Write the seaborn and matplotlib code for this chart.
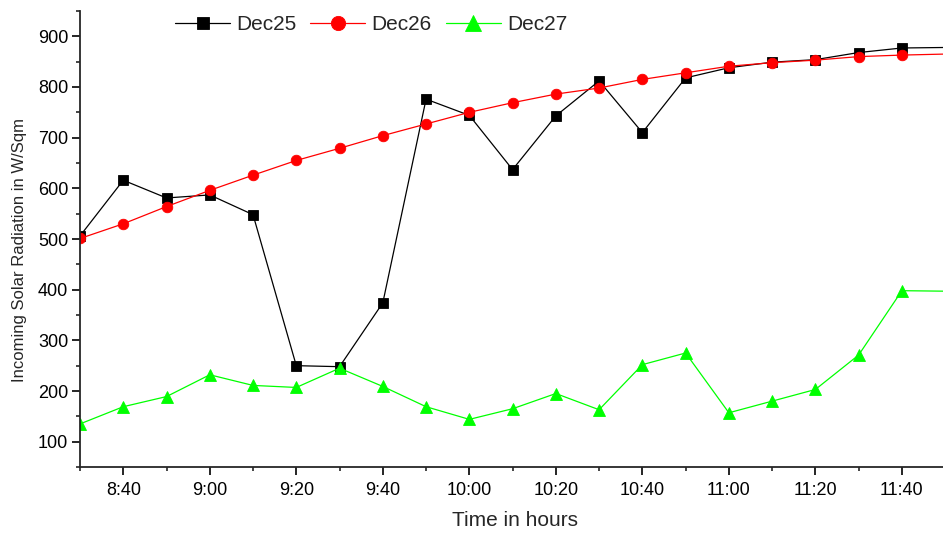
import matplotlib
matplotlib.use("Agg")
import matplotlib.pyplot as plt
import seaborn as sns
import pandas as pd
from matplotlib.ticker import MultipleLocator

# Time in minutes since midnight (8:30 ... 11:50)
times = [510, 520, 530, 540, 550, 560, 570, 580, 590, 600, 610,
         620, 630, 640, 650, 660, 670, 680, 690, 700, 710]

dec25 = [506, 616, 581, 587, 548, 250, 248, 374, 776, 744, 637,
         743, 812, 710, 818, 838, 849, 854, 868, 877, 878]
dec26 = [501, 530, 564, 596, 626, 655, 679, 704, 727, 750, 769,
         786, 798, 815, 828, 841, 848, 853, 860, 863, 865]
dec27 = [135, 169, 189, 232, 211, 207, 245, 209, 169, 144, 165,
         195, 163, 252, 275, 157, 180, 203, 271, 398, 397]

tick_pos = [520, 540, 560, 580, 600, 620, 640, 660, 680, 700]
tick_labels = ["8:40", "9:00", "9:20", "9:40", "10:00", "10:20",
               "10:40", "11:00", "11:20", "11:40"]

series_names = ["Dec25", "Dec26", "Dec27"]
series_vals = [dec25, dec26, dec27]
colors = ["#000000", "#FF0000", "#00FF00"]
markers = ["s", "o", "^"]
msizes = [6.8, 7.6, 8.2]

sns.set_style("ticks")
plt.rcParams["font.family"] = ["Liberation Sans", "DejaVu Sans"]

fig = plt.figure(figsize=(9.43, 5.35), dpi=100)
ax = fig.add_axes([80 / 943, 68 / 535, 863 / 943, 456 / 535])

for name, vals, c, m, ms in zip(series_names, series_vals, colors, markers, msizes):
    df = pd.DataFrame({"time": times, "value": vals})
    sns.lineplot(data=df, x="time", y="value", ax=ax, color=c, linewidth=0.9,
                 marker=m, markersize=ms, markeredgewidth=0.6,
                 markeredgecolor=c, markerfacecolor=c,
                 markevery=list(range(len(vals) - 1)), label=name)

ax.set_xlim(510, 709.5)
ax.set_ylim(50, 950)
ax.set_xticks(tick_pos)
ax.set_xticklabels(tick_labels)
ax.xaxis.set_minor_locator(MultipleLocator(10))
ax.set_yticks([100, 200, 300, 400, 500, 600, 700, 800, 900])
ax.yaxis.set_minor_locator(MultipleLocator(50))

ax.tick_params(axis="both", which="major", direction="out", length=5.5, width=1.2,
               labelsize=13, colors="black")
ax.tick_params(axis="both", which="minor", direction="out", length=3.2, width=1.2)
ax.tick_params(axis="x", which="major", pad=5)
ax.tick_params(axis="y", which="major", pad=3)

for s in ["top", "right"]:
    ax.spines[s].set_visible(False)
for s in ["left", "bottom"]:
    ax.spines[s].set_linewidth(1.3)

ax.set_xlabel("Time in hours", fontsize=15)
ax.set_ylabel("Incoming Solar Radiation in W/Sqm", fontsize=12)
ax.xaxis.set_label_coords((515 - 80) / 863, (467 - 511) / 456)
ax.yaxis.set_label_coords((27 - 80) / 863, (467 - 250) / 456)

leg = ax.legend(loc="center left", bbox_to_anchor=(175 / 943, 1 - 25 / 535),
                bbox_transform=fig.transFigure, ncol=3, frameon=False,
                prop={"size": 15}, handlelength=2.65, columnspacing=0.65,
                handletextpad=0.3, borderpad=0, borderaxespad=0, markerscale=1.35)

fig.savefig("out.png", dpi=100)
